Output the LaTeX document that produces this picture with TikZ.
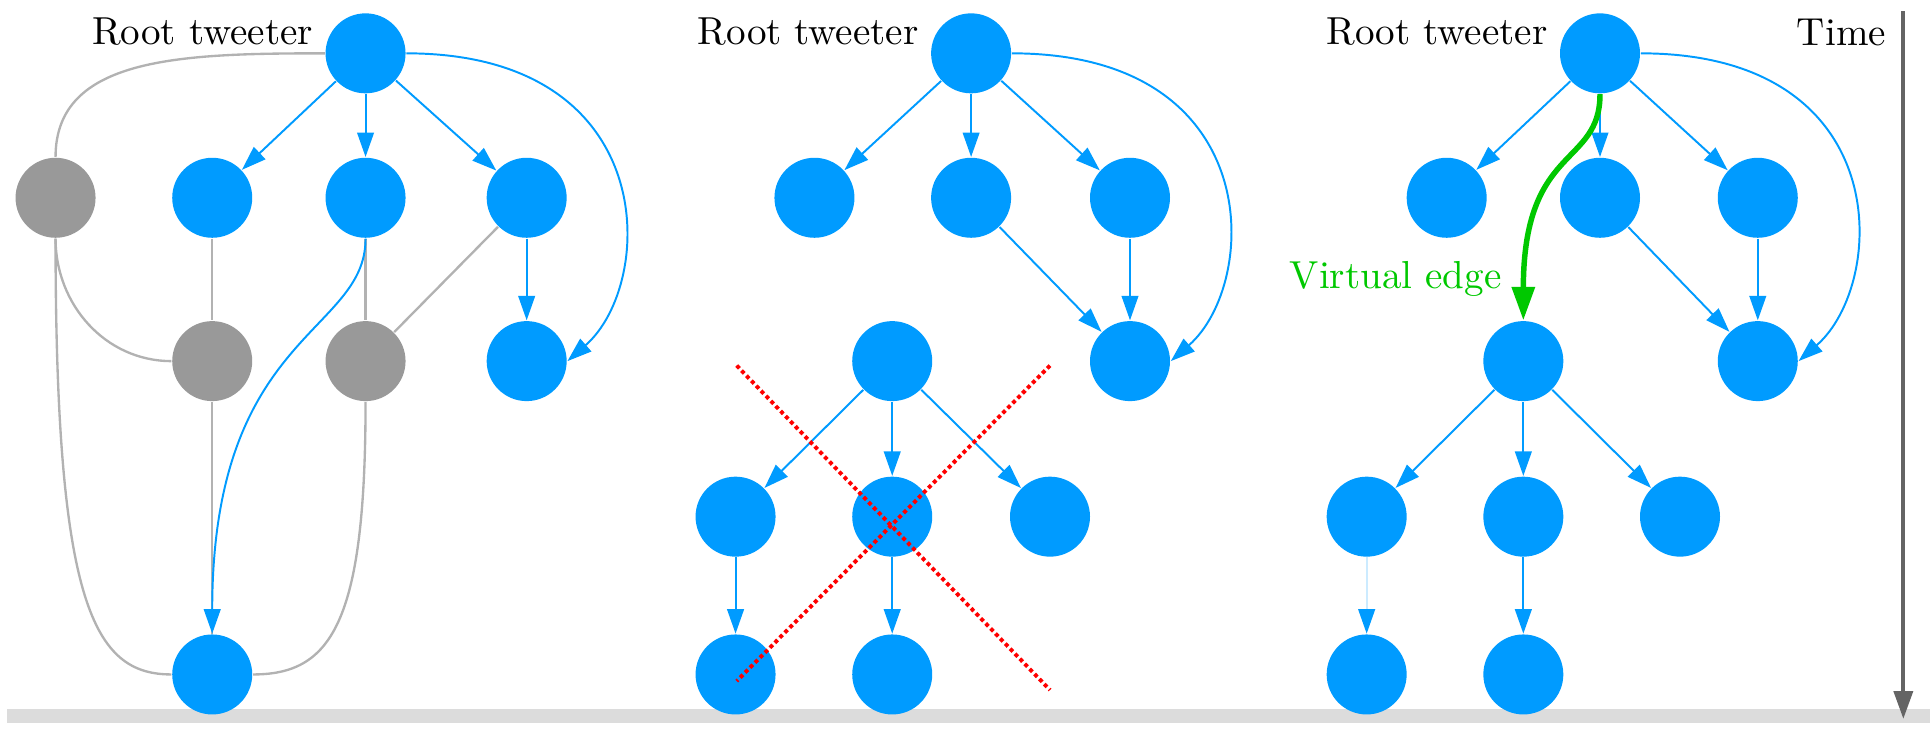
\documentclass[tikz,border=0pt]{standalone}
\usepackage{tikz}
\usetikzlibrary{arrows.meta}
\definecolor{tweetblue}{RGB}{0,155,255}
\definecolor{gonegray}{RGB}{153,153,153}
\definecolor{linkgray}{RGB}{178,178,178}
\definecolor{virtgreen}{RGB}{0,200,0}
\definecolor{timegray}{RGB}{100,100,100}
\definecolor{floorgray}{RGB}{220,220,220}
\tikzset{
    tweet/.style={circle, fill=tweetblue, minimum size=0.72cm, inner sep=0pt},
    gone/.style={circle, fill=gonegray, minimum size=0.72cm, inner sep=0pt},
    retweet/.style={draw=tweetblue, line width=0.5pt, -{Triangle[length=2.2mm,width=1.5mm]}},
    ghost/.style={draw=linkgray, line width=0.6pt},
    virtual/.style={draw=virtgreen, line width=1.4pt, -{Triangle[length=3mm,width=2mm]}},
    timeline/.style={draw=timegray, line width=1pt, -{Triangle[length=2.5mm,width=1.7mm]}},
    cross/.style={draw=red, line width=1pt, dash pattern=on 1pt off 0.8pt},
    rootlabel/.style={anchor=base east, inner sep=0pt}
}

\begin{document}
\begin{tikzpicture}

                \useasboundingbox (0,0) rectangle (17.37,-6.58);
                \fill[floorgray] (0.06,-6.38) rectangle (17.37,-6.51);

                \node (r1) [tweet] at (3.29,-0.48) {};
                \node (lbl1) [rootlabel] at ([xshift=-1mm,yshift=0.8mm]r1.west) {Root tweeter};
                \node (old1) [gone] at (0.50,-1.78) {};
                \node (a1) [tweet] at (1.91,-1.78) {};
                \node (b1) [tweet] at (3.29,-1.78) {};
                \node (c1) [tweet] at (4.74,-1.78) {};
                \node (old2) [gone] at (1.91,-3.25) {};
                \node (old3) [gone] at (3.29,-3.25) {};
                \node (d1) [tweet] at (4.74,-3.25) {};
                \node (e1) [tweet] at (1.91,-6.07) {};

                \draw[ghost] (r1.west) .. controls +(-1.3,0) and +(0,0.9) .. (old1.north);
                \draw[ghost] (old1) to[out=-90,in=180] (old2);
                \draw[ghost] (old1.south) .. controls +(0,-3.3) and +(-0.7,0) .. (e1.west);
                \draw[ghost] (a1) -- (old2);
                \draw[ghost] (b1) -- (old3);
                \draw[ghost] (c1) -- (old3);
                \draw[ghost] (old2) -- (e1);
                \draw[ghost] (old3.south) .. controls +(0,-2) and +(0.7,0) .. (e1.east);

                \draw[retweet] (r1) -- (a1);
                \draw[retweet] (r1) -- (b1);
                \draw[retweet] (r1) -- (c1);
                \draw[retweet] (c1) -- (d1);
                \draw[retweet] (r1.east) .. controls +(2.3,0) and +(0.8,0.7) .. (d1.east);
                \draw[retweet] (b1.south) .. controls +(0,-0.86) and +(0,2.71) .. (e1.north);

                \node (r2) [tweet] at (8.74,-0.48) {};
                \node (lbl2) [rootlabel] at ([xshift=-1mm,yshift=0.8mm]r2.west) {Root tweeter};
                \node (a2) [tweet] at (7.33,-1.78) {};
                \node (b2) [tweet] at (8.74,-1.78) {};
                \node (c2) [tweet] at (10.17,-1.78) {};
                \node (d2) [tweet] at (10.17,-3.25) {};
                \node (s2) [tweet] at (8.03,-3.25) {};
                \node (s2a) [tweet] at (6.62,-4.65) {};
                \node (s2b) [tweet] at (8.03,-4.65) {};
                \node (s2c) [tweet] at (9.45,-4.65) {};
                \node (s2d) [tweet] at (6.62,-6.07) {};
                \node (s2e) [tweet] at (8.03,-6.07) {};

                \draw[retweet] (r2) -- (a2);
                \draw[retweet] (r2) -- (b2);
                \draw[retweet] (r2) -- (c2);
                \draw[retweet] (b2) -- (d2);
                \draw[retweet] (c2) -- (d2);
                \draw[retweet] (r2.east) .. controls +(2.3,0) and +(0.8,0.7) .. (d2.east);
                \draw[retweet] (s2) -- (s2a);
                \draw[retweet] (s2) -- (s2b);
                \draw[retweet] (s2) -- (s2c);
                \draw[retweet] (s2a) -- (s2d);
                \draw[retweet] (s2b) -- (s2e);

                \draw[cross] (6.63,-3.29) -- (9.45,-6.21);
                \draw[cross] (9.45,-3.29) -- (6.63,-6.13);

                \node (r3) [tweet] at (14.40,-0.48) {};
                \node (lbl3) [rootlabel] at ([xshift=-1mm,yshift=0.8mm]r3.west) {Root tweeter};
                \node (a3) [tweet] at (13.02,-1.78) {};
                \node (b3) [tweet] at (14.40,-1.78) {};
                \node (c3) [tweet] at (15.82,-1.78) {};
                \node (d3) [tweet] at (15.82,-3.25) {};
                \node (s3) [tweet] at (13.71,-3.25) {};
                \node (s3a) [tweet] at (12.30,-4.65) {};
                \node (s3b) [tweet] at (13.71,-4.65) {};
                \node (s3c) [tweet] at (15.12,-4.65) {};
                \node (s3d) [tweet] at (12.30,-6.07) {};
                \node (s3e) [tweet] at (13.71,-6.07) {};

                \draw[retweet] (r3) -- (a3);
                \draw[retweet] (r3) -- (b3);
                \draw[retweet] (r3) -- (c3);
                \draw[retweet] (b3) -- (d3);
                \draw[retweet] (c3) -- (d3);
                \draw[retweet] (r3.east) .. controls +(2.3,0) and +(0.8,0.7) .. (d3.east);
                \draw[retweet] (s3) -- (s3a);
                \draw[retweet] (s3) -- (s3b);
                \draw[retweet] (s3) -- (s3c);
                \draw[retweet, draw=tweetblue!20, -{Triangle[length=2.2mm,width=1.5mm,color=tweetblue]}] (s3a) -- (s3d);
                \draw[retweet] (s3b) -- (s3e);

                \draw[virtual] (r3.south) .. controls +(0,-0.66) and +(0,1.59) .. (s3.north);
                \node (vlabel) [anchor=base east, inner sep=0pt, text=virtgreen] at (13.52,-2.60) {Virtual edge};

                \node (tlabel) [anchor=base east, inner sep=0pt] at (16.98,-0.41) {Time};
                \coordinate (tstart) at (17.13,-0.10);
                \coordinate (tend) at (17.13,-6.47);
                \draw[timeline] (tstart) -- (tend);

\end{tikzpicture}
\end{document}
